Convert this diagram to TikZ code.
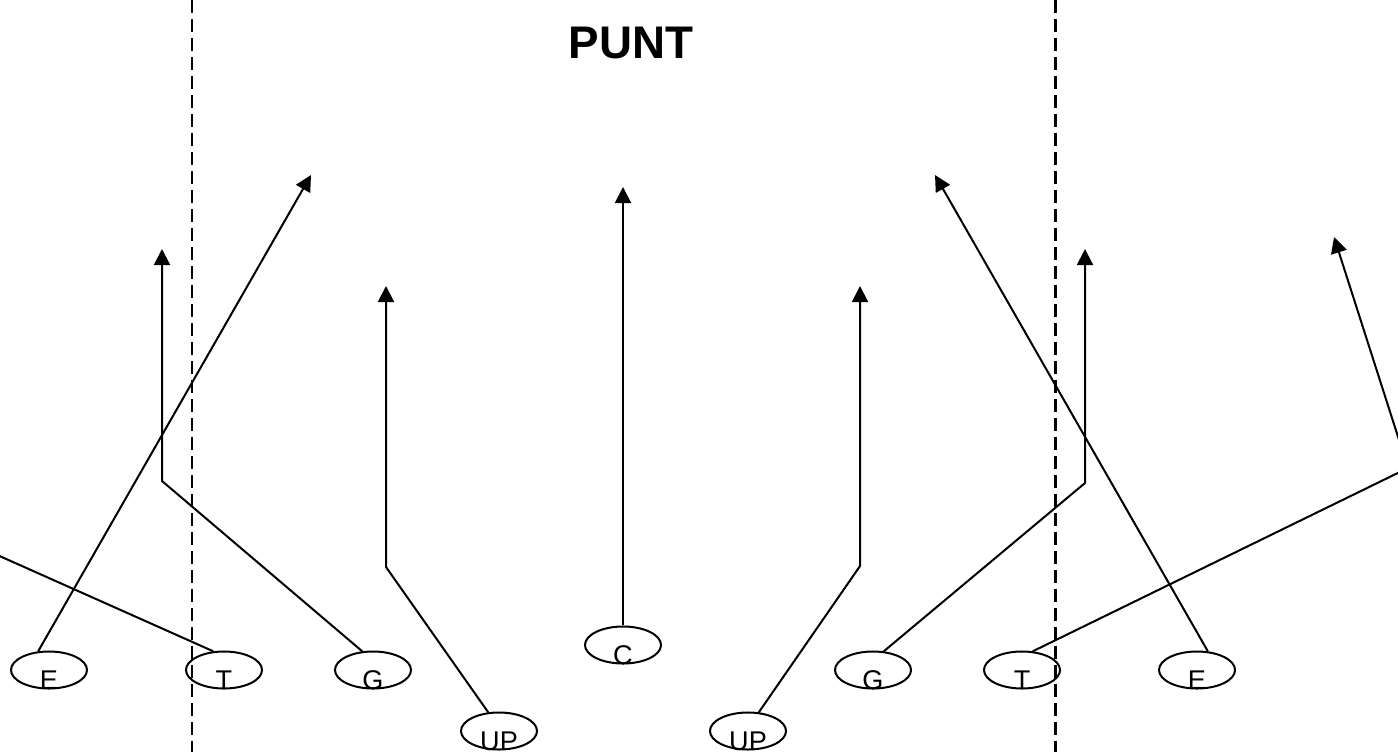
\documentclass[tikz,border=0pt]{standalone}
\usepackage{fontspec}
\setmainfont{Liberation Sans}
\usetikzlibrary{arrows.meta,shapes.geometric}
% letter sits low in the player ellipse
\newcommand{\lbl}[1]{\smash{\raisebox{-0.19cm}{#1}}}

\begin{document}
\begin{tikzpicture}[x=0.01cm, y=-0.01cm, line width=0.57pt,
  main/.style = {draw, ellipse, minimum width=0.76cm, minimum height=0.37cm, inner sep=0pt, font=\fontsize{7.7}{9}\selectfont},
  los/.style = {line width=0.85pt, dash pattern=on 0.13cm off 0.06cm},
  >={Triangle[length=0.16cm, width=0.16cm]}]
\useasboundingbox (0,0) rectangle (1398,752);
\clip (0,0) rectangle (1398,752);

\node[font=\bfseries\fontsize{13}{15}\selectfont] (title) at (631,43) {PUNT};

% dashed lines
\coordinate (d1) at (192,0);
\coordinate (d2) at (192,752);
\coordinate (d3) at (1055,0);
\coordinate (d4) at (1055,752);
\draw[los] (d1) -- (d2);
\draw[los] (d3) -- (d4);

% players
\node[main] (1) at (49,670) {\lbl{E}};
\node[main] (2) at (224,670) {\lbl{T}};
\node[main] (3) at (373,670) {\lbl{G}};
\node[main] (4) at (499,731) {\lbl{UP}};
\node[main] (5) at (623,645) {\lbl{C}};
\node[main] (6) at (748,731) {\lbl{UP}};
\node[main] (7) at (873,670) {\lbl{G}};
\node[main] (8) at (1022,670) {\lbl{T}};
\node[main] (9) at (1197,670) {\lbl{E}};

% turns and arrow ends
\coordinate (1a) at (311,175);
\coordinate (2a) at (-162,484);
\coordinate (2b) at (-88,252);
\coordinate (3a) at (162,481);
\coordinate (3b) at (162,249);
\coordinate (4a) at (386,567);
\coordinate (4b) at (386,286);
\coordinate (5a) at (623,187);
\coordinate (6a) at (860,566);
\coordinate (6b) at (860,286);
\coordinate (7a) at (1085,483);
\coordinate (7b) at (1085,249);
\coordinate (8a) at (1408,468);
\coordinate (8b) at (1334,237);
\coordinate (9a) at (935,175);

\draw[->] (1.120) -- (1a);
\draw[->] (2.120) -- (2a) -- (2b);
\draw[->] (3.120) -- (3a) -- (3b);
\draw[->] (4.120) -- (4a) -- (4b);
\draw[->] (5.north) -- (5a);
\draw[->] (6.60) -- (6a) -- (6b);
\draw[->] (7.60) -- (7a) -- (7b);
\draw[->] (8.60) -- (8a) -- (8b);
\draw[->] (9.60) -- (9a);
\end{tikzpicture}
\end{document}
